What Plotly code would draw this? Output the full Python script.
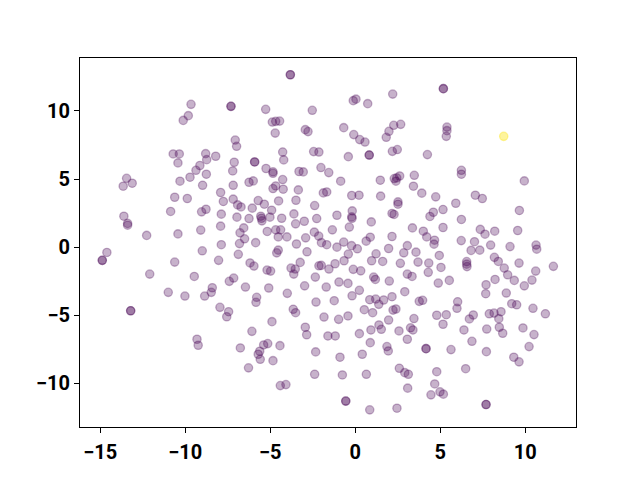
import plotly.graph_objects as go

x_vals = [
 -9.66,-7.31,-7.31,-9.82,-10.12,-7.06,-6.98,-10.71,-10.35,-8.80,-8.21,-8.74,-10.43,-7.12,-9.14,-9.37,-7.21,-8.76,
 -13.45,-9.72,-10.31,-13.12,-13.65,-8.98,-7.18,-7.92,-10.62,-9.88,-7.76,-7.18,-6.92,-6.72,-10.86,-9.04,-8.78,-7.88,
 -6.96,-13.61,-13.39,-13.39,-12.27,-10.43,-9.09,-7.92,-6.56,-6.78,-6.51,-7.88,-6.81,
 -14.61,-14.88,-14.88,-12.09,-10.62,-9.00,-6.88,-8.04,-6.19,-9.47,-7.41,-7.15,-6.46,-8.41,-8.47,-8.86,-11.0,-10.02,
 -13.21,-13.21,-7.96,-7.45,-7.56,-9.31,-9.24,-6.76,-6.28,-6.08,
 -3.82,-3.82,2.20,-0.12,0.04,0.73,-5.27,-2.53,-4.88,-4.68,-4.45,-4.71,-2.94,-2.78,-0.68,-0.09,0.26,0.57,1.82,1.98,
 2.26,2.67,2.18,2.47,0.82,0.82,-0.41,-2.45,-2.14,-4.27,-4.21,-5.92,-5.92,-5.25,-4.84,-4.84,-4.27,-3.31,-3.06,-2.02,
 -1.56,-0.86,-6.25,-6.0,-4.84,-4.68,-4.24,-3.35,-1.88,-1.68,-0.21,0.22,1.47,1.49,2.29,2.44,2.61,2.39,3.47,3.42,
 -5.71,-5.35,-4.51,-3.49,-2.39,-6.06,-4.92,-5.56,-5.52,-5.49,-5.02,-6.25,-4.33,-3.61,-3.51,-3.0,-2.27,-1.08,-0.18,
 -0.21,-0.19,-0.35,-1.35,0.94,2.16,2.28,2.51,2.51,3.36,-5.18,-4.68,-4.39,-4.53,-4.02,-2.92,-2.41,-2.15,-5.86,-3.46,
 -1.99,-1.68,-0.68,-0.22,0.64,0.88,2.16,3.06,
 5.18,5.18,5.39,5.39,5.35,4.24,6.24,6.24,9.94,3.91,4.73,5.91,7.06,7.47,9.65,4.59,4.39,5.16,6.24,4.0,4.20,5.16,7.35,
 7.63,8.20,9.55,4.66,4.63,6.23,7.01,7.96,9.10,10.63,10.67,
 -1.08,0.12,1.96,2.85,-4.53,-4.62,-2.84,-0.41,1.22,-0.66,-1.19,-2.14,-2.0,-1.55,-3.24,-5.96,-5.19,-4.98,-3.78,-3.53,
 -3.62,0.96,1.61,2.65,3.69,-0.12,0.32,1.08,1.18,3.06,3.34,-2.35,-5.09,-4.0,-2.98,-1.71,-0.96,-0.43,0.24,-0.19,2.0,
 2.91,-5.80,-5.84,-2.31,-1.24,0.85,1.20,1.38,1.67,2.16,-3.65,-3.51,-1.84,-0.98,-0.43,0.53,1.02,2.22,2.39,1.96,3.45,
 -4.90,-2.94,-2.86,-1.61,-1.18,0.24,0.92,1.39,1.53,2.57,3.25,3.39,3.06,0.88,1.86,1.94,0.41,-0.90,-2.33,-4.43,-5.39,
 -5.15,-5.62,-5.71,-5.59,-4.84,-2.39,-0.76,0.65,2.59,2.91,3.12,3.08,-4.41,-4.08,-0.56,-0.56,0.85,2.45,
 3.57,4.94,6.81,7.32,11.65,4.32,4.29,5.04,6.55,6.55,6.57,8.18,8.41,8.76,8.96,9.63,9.35,9.94,10.39,10.61,8.22,7.69,
 7.67,8.88,9.20,9.49,10.45,11.18,4.88,5.53,3.76,3.96,6.02,5.98,4.79,5.35,5.16,6.71,6.94,7.88,8.16,8.44,8.57,8.47,
 8.67,9.86,10.51,6.39,7.73,6.86,7.71,10.22,9.32,9.63,4.16,4.16,5.63,6.49,4.79,4.67,4.45,4.98,5.18,7.69,7.69,
 8.73,
]

y_vals = [
 10.48,10.33,10.33,9.65,9.30,7.86,7.40,6.84,6.84,6.86,6.67,6.42,6.18,6.23,5.99,5.64,5.59,5.35,
 5.05,5.13,4.84,4.69,4.47,4.54,4.54,4.01,3.66,3.57,3.35,3.52,3.10,2.95,2.62,2.59,2.78,2.42,
 2.20,2.27,1.74,1.61,0.86,0.97,1.25,1.54,1.41,1.05,0.61,0.18,0.26,
 -0.39,-0.97,-0.97,-1.98,-1.10,-0.27,-0.53,-0.97,-1.16,-2.15,-2.51,-2.27,-2.93,-2.98,-3.32,-3.59,-3.32,-3.59,
 -4.67,-4.67,-4.42,-4.74,-5.11,-6.76,-7.20,-7.40,-8.86,-6.18,
 12.65,12.65,11.23,10.75,10.86,10.53,10.11,10.04,9.18,9.23,9.25,8.37,8.62,8.48,8.77,8.26,7.89,7.71,8.06,8.50,
 8.94,9.01,7.03,7.16,6.76,6.76,6.64,7.01,6.98,6.98,6.40,6.25,6.25,5.77,5.53,5.42,4.96,5.55,5.52,5.84,
 5.47,4.84,4.76,4.86,4.30,4.49,4.25,4.20,3.98,4.05,3.79,3.81,4.91,3.74,5.03,5.08,5.22,4.84,5.27,4.47,
 3.42,3.15,3.39,3.44,3.05,2.86,2.71,2.27,2.12,1.93,2.20,2.10,2.12,2.44,1.71,1.90,2.10,2.34,2.66,
 2.22,2.12,1.47,1.27,1.85,2.47,2.40,3.32,3.15,1.41,1.15,1.27,1.27,0.75,0.75,0.68,1.10,0.81,0.33,0.23,
 0.33,0.18,0.37,0.11,0.44,0.73,0.78,0.11,
 11.63,11.63,8.81,8.55,8.13,6.79,5.64,5.35,4.86,3.96,3.69,3.22,3.81,3.57,2.69,2.56,2.25,2.76,2.03,1.17,0.75,1.44,1.30,
 0.95,1.17,1.22,0.51,0.22,0.48,0.40,0.15,0.04,0.15,-0.15,
 0.0,-0.12,-0.10,-0.42,-0.22,-0.42,-0.34,-0.51,-0.49,-1.00,-1.22,-1.37,-1.34,-1.61,-1.12,-1.39,-1.68,-1.76,-1.54,-1.61,
 -1.98,-1.00,-1.05,-1.19,-1.10,-1.63,-1.74,-2.20,-2.37,-1.98,-2.15,-2.20,-3.00,-3.39,-2.84,-2.93,-2.56,-2.66,-3.17,-3.57,-2.49,
 -3.27,-3.68,-4.05,-4.03,-3.93,-3.86,-3.81,-4.20,-3.88,-3.64,-4.56,-4.81,-5.13,-5.30,-5.05,-4.59,-4.81,-4.62,-4.54,-5.35,-5.24,
 -5.47,-5.88,-6.43,-6.52,-6.52,-6.35,-6.08,-5.71,-6.03,-6.15,-5.92,-6.08,-6.76,-7.01,-7.30,-7.62,-7.86,-8.08,-7.69,-7.23,-7.18,
 -7.08,-7.64,-7.86,-8.23,-8.33,-9.33,-9.38,-9.33,-8.89,-9.21,-9.33,-10.35,-10.16,-10.09,-11.30,-11.30,-11.94,-11.82,
 -0.37,-0.61,-0.24,-0.22,-1.41,-1.17,-1.85,-1.49,-1.06,-1.25,-1.43,-0.75,-1.05,-1.54,-2.03,-1.17,-2.44,-2.84,-2.42,-1.76,-2.37,-2.76,
 -3.42,-3.37,-4.15,-4.23,-4.49,-4.89,-2.64,-2.44,-3.98,-3.90,-4.01,-4.49,-5.00,-4.96,-5.66,-5.27,-4.98,-4.89,-4.84,-5.25,-4.74,-5.88,
 -6.32,-5.93,-6.42,-6.08,-6.01,-6.91,-7.67,-7.30,-8.08,-8.42,-7.45,-7.45,-7.52,-8.92,-9.14,-10.04,-10.84,-10.62,-10.79,-11.55,-11.55,
 8.13,
]

labels = [0] * (len(x_vals) - 1) + [1]

palette = {0: "rgba(68,1,84,0.3)", 1: "rgba(253,231,37,0.45)"}
colors = [palette[c] for c in labels]

n = min(len(x_vals), len(y_vals))

fig = go.Figure(go.Scatter(
    x=x_vals[:n], y=y_vals[:n], mode="markers",
    marker=dict(size=8.3, color=colors[:n], line=dict(width=1.3, color=colors[:n])),
    hoverinfo="skip",
))

axis_common = dict(
    showgrid=False, zeroline=False, showline=True, linecolor="black", linewidth=1,
    mirror=True, ticks="outside", ticklen=5, tickwidth=1, tickcolor="black",
    tickfont=dict(family="Roboto", size=20, color="black", weight="bold"),
)

# page body has an 8px margin, so the plot area is shifted to land where the reference has it
fig.update_layout(
    width=640, height=480,
    margin=dict(l=72, r=72, t=49.6, b=60.8),
    paper_bgcolor="white", plot_bgcolor="white",
    showlegend=False,
    xaxis=dict(range=[-16.19, 12.98], tickvals=[-15, -10, -5, 0, 5, 10], ticklabelstandoff=2, **axis_common),
    yaxis=dict(range=[-13.2, 13.88], tickvals=[-10, -5, 0, 5, 10], **axis_common),
)

fig.write_html("out.html")
